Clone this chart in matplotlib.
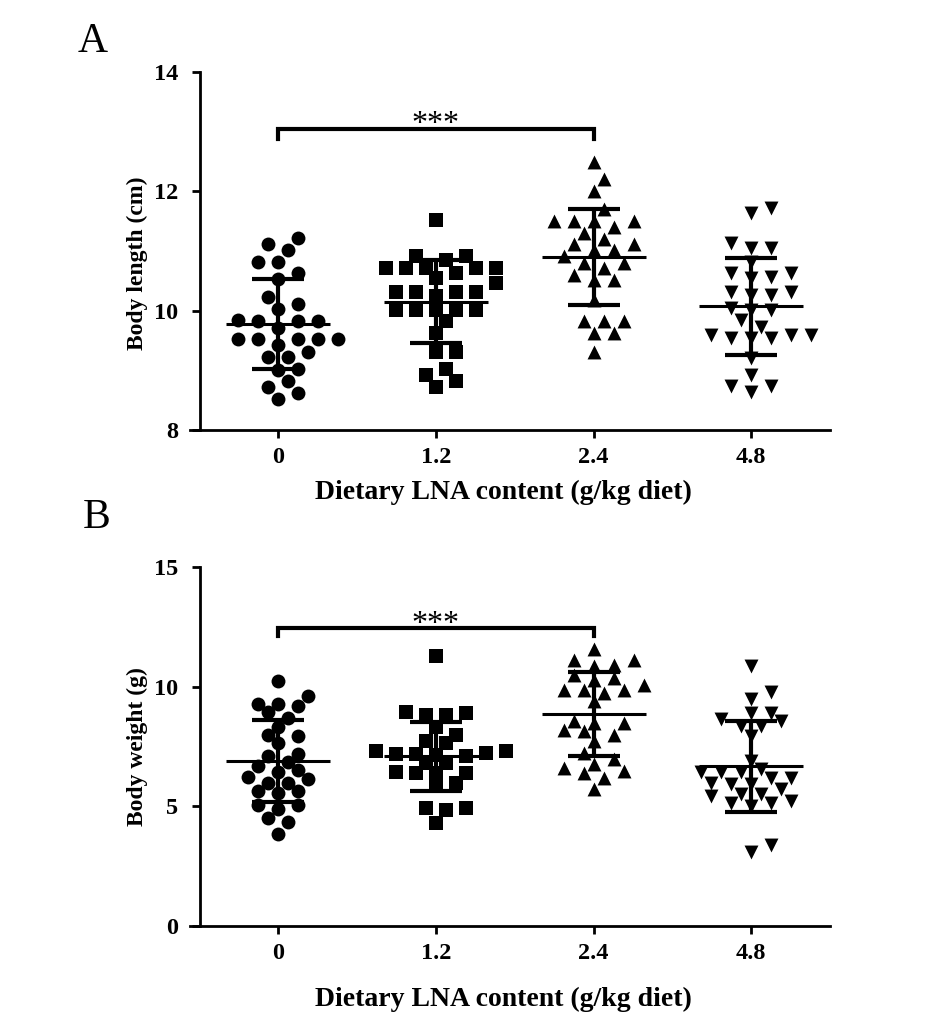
import numpy as np
import matplotlib
matplotlib.use('Agg')
import matplotlib.pyplot as plt

plt.rcParams['font.family'] = ['Liberation Serif', 'DejaVu Serif']

# 数据
groups = ['0', '1.2', '2.4', '4.8']
markers = ['o', 's', '^', 'v']

# A: Body length (cm)
len_0 = [11.22, 11.02, 11.12, 10.82, 10.82, 10.63, 10.53, 10.23, 10.11, 10.03,
         9.82, 9.82, 9.85, 9.82, 9.71, 9.52, 9.52, 9.43, 9.52, 9.52,
         9.52, 9.31, 9.22, 9.22, 9.02, 9.00, 8.72, 8.82, 8.62, 8.52]
len_12 = [11.52, 10.91, 10.85, 10.91, 10.71, 10.71, 10.71, 10.71, 10.63, 10.71,
          10.46, 10.55, 10.32, 10.32, 10.24, 10.32, 10.32, 10.01, 10.01, 10.01,
          10.01, 10.01, 9.82, 9.62, 9.31, 9.31, 8.92, 9.02, 8.82, 8.72]
len_24 = [12.50, 12.20, 12.00, 11.71, 11.51, 11.51, 11.41, 11.51, 11.51, 11.30,
          11.20, 11.12, 11.02, 11.02, 11.12, 10.91, 10.80, 10.71, 10.80, 10.60,
          10.52, 10.52, 10.18, 9.82, 9.82, 9.82, 9.62, 9.62, 9.31]
len_48 = [11.72, 11.64, 11.13, 11.05, 11.05, 10.82, 10.63, 10.57, 10.55, 10.63,
          10.32, 10.32, 10.27, 10.27, 10.01, 10.01, 10.05, 9.85, 9.73, 9.54,
          9.60, 9.54, 9.60, 9.60, 9.54, 9.20, 8.92, 8.73, 8.63, 8.73]
len_mean = [9.77, 10.15, 10.90, 10.07]
len_sd = [0.755, 0.70, 0.805, 0.81]

# B: Body weight (g)
wt_0 = [10.22, 9.29, 9.21, 9.29, 9.60, 8.93, 8.69, 8.32, 7.93, 8.00,
        7.63, 7.10, 7.17, 6.68, 6.51, 6.43, 6.13, 5.99, 5.96, 6.24,
        5.64, 5.54, 5.64, 5.04, 4.88, 5.04, 4.53, 4.35, 3.83, 6.85]
wt_12 = [11.29, 8.90, 8.83, 8.83, 8.93, 8.32, 8.00, 7.72, 7.65, 7.30,
         7.30, 7.17, 7.15, 7.12, 7.24, 7.17, 6.82, 6.82, 6.40, 6.42,
         6.38, 6.40, 5.99, 5.85, 4.92, 4.83, 4.92, 4.32]
wt_24 = [11.57, 11.13, 10.92, 10.85, 11.10, 10.50, 10.36, 10.29, 10.08, 9.88,
         9.88, 9.88, 9.74, 9.39, 8.49, 8.55, 8.49, 8.14, 8.18, 8.00,
         7.72, 7.21, 6.96, 6.75, 6.40, 6.61, 6.47, 6.19, 5.71]
wt_48 = [10.85, 9.76, 9.49, 8.65, 8.90, 8.90, 8.55, 8.35, 8.35, 7.93,
         6.89, 6.57, 6.43, 6.43, 6.43, 6.19, 6.19, 5.99, 5.92, 5.92,
         5.71, 5.50, 5.50, 5.22, 5.15, 5.01, 5.15, 5.43, 3.10, 3.38]
wt_mean = [6.89, 7.10, 8.85, 6.68]
wt_sd = [1.715, 1.44, 1.75, 1.90]


def swarm(vals, xc, px_x, px_y, d=15, step=10):
    # 简单的蜂群排列, 像素坐标下防止重叠
    vals = np.asarray(vals, dtype=float)
    placed = []
    off = np.zeros(len(vals))
    cands = [0] + [s * m * step for m in range(1, 12) for s in (1, -1)]
    for i in np.argsort(vals):
        y = vals[i] * px_y
        for c in cands:
            if all((c - a) ** 2 + (y - b) ** 2 >= d * d for a, b in placed):
                break
        placed.append((c, y))
        off[i] = c
    return xc + off / px_x


def panel(ax, data, means, sds, ylim, yticks, ylabel, br_y, br_leg, star_y,
          d, xpad, ylab_y):
    x = np.arange(len(groups))
    ax.set_xlim(-0.56, 3.5)
    ax.set_ylim(*ylim)
    bb = ax.get_window_extent()
    px_x = bb.width / (3.5 + 0.56)
    px_y = bb.height / (ylim[1] - ylim[0])
    for i, vals in enumerate(data):
        xs = swarm(vals, x[i], px_x, px_y, d=d)
        ax.scatter(xs, vals, marker=markers[i], s=100, color='black',
                   linewidths=0, zorder=2, clip_on=False)
    ax.errorbar(x, means, yerr=sds, fmt='none', ecolor='black', elinewidth=3,
                capsize=18.5, capthick=3, zorder=3)
    ax.hlines(means, x - 0.33, x + 0.33, color='black', lw=2.2, zorder=3)

    # 显著性标记
    ax.plot([0, 0, 2, 2], [br_leg, br_y, br_y, br_leg], color='black', lw=3,
            solid_joinstyle='miter', clip_on=False)
    ax.text(1, star_y, '***', ha='center', va='baseline', fontsize=23)

    ax.set_xticks(x)
    ax.set_xticklabels(groups)
    ax.set_yticks(yticks)
    for s in ['top', 'right']:
        ax.spines[s].set_visible(False)
    ax.spines['left'].set_position(('data', -0.495))
    for s in ['left', 'bottom']:
        ax.spines[s].set_linewidth(2)
    ax.tick_params(width=2, length=6, labelsize=17.5)
    ax.tick_params(axis='x', pad=6)
    ax.tick_params(axis='y', pad=10)
    for lab in ax.get_xticklabels() + ax.get_yticklabels():
        lab.set_fontweight('bold')
    ax.set_xlabel('Dietary LNA content (g/kg diet)', fontsize=20,
                  fontweight='bold', labelpad=xpad)
    ax.xaxis.label.set_x(0.49)
    ax.set_ylabel(ylabel, fontsize=17, fontweight='bold', labelpad=4)
    ax.yaxis.label.set_y(ylab_y)


fig = plt.figure(figsize=(9.26, 10.26), dpi=100)
axA = fig.add_axes([190 / 926, 1 - 430 / 1026, 640 / 926, 358 / 1026])
axB = fig.add_axes([190 / 926, 1 - 926 / 1026, 640 / 926, 359 / 1026])

panel(axA, [len_0, len_12, len_24, len_48], len_mean, len_sd,
      (8, 14), [8, 10, 12, 14], 'Body length (cm)', 13.05, 12.88, 13.0,
      13.5, 9, 0.466)
panel(axB, [wt_0, wt_12, wt_24, wt_48], wt_mean, wt_sd,
      (0, 15), [0, 5, 10, 15], 'Body weight (g)', 12.46, 12.12, 12.3,
      12.5, 17, 0.5)

fig.text(78 / 926, 1 - 52 / 1026, 'A', fontsize=30, va='baseline')
fig.text(83 / 926, 1 - 528 / 1026, 'B', fontsize=30, va='baseline')

plt.savefig('out.png', dpi=100)
